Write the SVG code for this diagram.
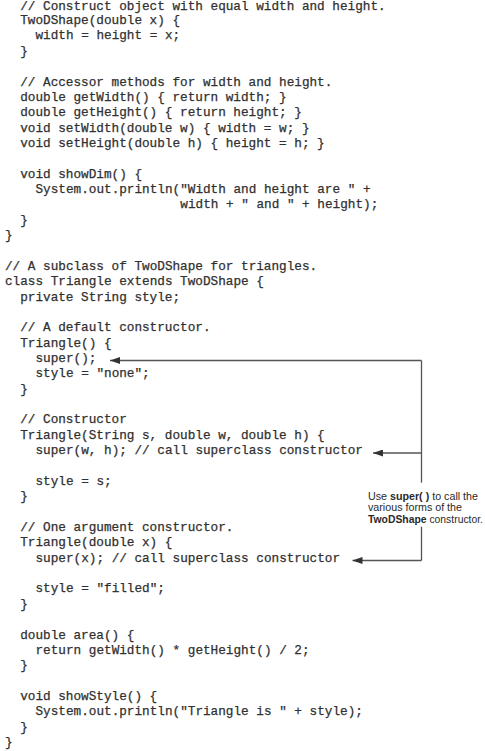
<svg xmlns="http://www.w3.org/2000/svg" width="485" height="751" viewBox="0 0 485 751">
  <style>
    .code { font-family: "Liberation Mono", "Courier New", monospace; font-size: 12.7px; fill: #303030; stroke: #303030; stroke-width: 0.25; }
    .note { font-family: "Liberation Sans", Arial, sans-serif; font-size: 10px; fill: #2a2a2a; }
    .b { font-weight: bold; }
    .conn { fill: none; stroke: #555; stroke-width: 1.3; }
  </style>
  <defs>
    <marker id="ah" markerUnits="userSpaceOnUse" markerWidth="10" markerHeight="7" refX="10" refY="3.5" orient="auto">
      <path d="M0,0 L10,3.5 L0,7 Z" fill="#333"/>
    </marker>
  </defs>
  <rect width="485" height="751" fill="#ffffff"/>
  <g id="code">
    <text class="code" x="20.2" y="10">// Construct object with equal width and height.</text>
    <text class="code" x="20.2" y="24.1">TwoDShape(double x) {</text>
    <text class="code" x="35.5" y="39.4">width = height = x;</text>
    <text class="code" x="20.2" y="54.8">}</text>
    <text class="code" x="20.2" y="85.5">// Accessor methods for width and height.</text>
    <text class="code" x="20.2" y="100.9">double getWidth() { return width; }</text>
    <text class="code" x="20.2" y="116.2">double getHeight() { return height; }</text>
    <text class="code" x="20.2" y="131.6">void setWidth(double w) { width = w; }</text>
    <text class="code" x="20.2" y="146.9">void setHeight(double h) { height = h; }</text>
    <text class="code" x="20.2" y="177.7">void showDim() {</text>
    <text class="code" x="35.5" y="193.0">System.out.println("Width and height are " +</text>
    <text class="code" x="180.3" y="208.4">width + " and " + height);</text>
    <text class="code" x="20.2" y="223.7">}</text>
    <text class="code" x="5" y="239.1">}</text>
    <text class="code" x="5" y="269.8">// A subclass of TwoDShape for triangles.</text>
    <text class="code" x="5" y="285.2">class Triangle extends TwoDShape {</text>
    <text class="code" x="20.2" y="300.5">private String style;</text>
    <text class="code" x="20.2" y="331.3">// A default constructor.</text>
    <text class="code" x="20.2" y="346.6">Triangle() {</text>
    <text class="code" x="35.5" y="362.0">super();</text>
    <text class="code" x="35.5" y="377.3">style = "none";</text>
    <text class="code" x="20.2" y="392.7">}</text>
    <text class="code" x="20.2" y="423.4">// Constructor</text>
    <text class="code" x="20.2" y="438.8">Triangle(String s, double w, double h) {</text>
    <text class="code" x="35.5" y="454.1">super(w, h); // call superclass constructor</text>
    <text class="code" x="35.5" y="484.8">style = s;</text>
    <text class="code" x="20.2" y="500.2">}</text>
    <text class="code" x="20.2" y="530.9">// One argument constructor.</text>
    <text class="code" x="20.2" y="546.3">Triangle(double x) {</text>
    <text class="code" x="35.5" y="561.7">super(x); // call superclass constructor</text>
    <text class="code" x="35.5" y="592.4">style = "filled";</text>
    <text class="code" x="20.2" y="607.7">}</text>
    <text class="code" x="20.2" y="638.5">double area() {</text>
    <text class="code" x="35.5" y="653.8">return getWidth() * getHeight() / 2;</text>
    <text class="code" x="20.2" y="669.2">}</text>
    <text class="code" x="20.2" y="699.9">void showStyle() {</text>
    <text class="code" x="35.5" y="715.3">System.out.println("Triangle is " + style);</text>
    <text class="code" x="20.2" y="730.6">}</text>
    <text class="code" x="5" y="746.0">}</text>
  </g>
  <g id="connectors">
    <path class="conn" d="M421.5,360.5 V482.7"/>
    <path class="conn" d="M421.5,526.7 V560.5"/>
    <path class="conn" d="M421.5,360.5 H110" marker-end="url(#ah)"/>
    <path class="conn" d="M421.5,453 H373" marker-end="url(#ah)"/>
    <path class="conn" d="M421.5,560.5 H352.5" marker-end="url(#ah)"/>
  </g>
  <g id="note">
    <text class="note" x="368" y="499.5" textLength="110" lengthAdjust="spacingAndGlyphs">Use <tspan class="b">super( )</tspan> to call the</text>
    <text class="note" x="368" y="511" textLength="94" lengthAdjust="spacingAndGlyphs">various forms of the</text>
    <text class="note" x="368" y="522.5" textLength="115" lengthAdjust="spacingAndGlyphs"><tspan class="b">TwoDShape</tspan> constructor.</text>
  </g>
</svg>
